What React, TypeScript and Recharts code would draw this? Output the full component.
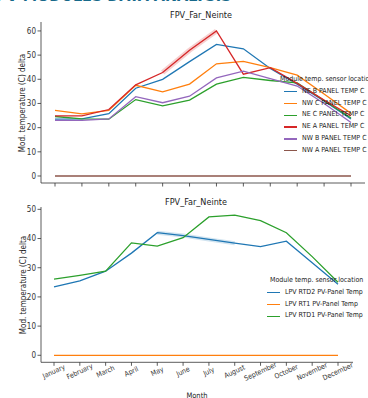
import { LineChart, Line, XAxis, YAxis } from 'recharts'

const months = ['January', 'February', 'March', 'April', 'May', 'June', 'July', 'August', 'September', 'October', 'November', 'December']

// top panel: module temp delta per sensor
const neB = [23.5, 23.6, 25.8, 36.3, 40.0, 47.3, 54.4, 52.6, 44.5, 38.0, 31.0, 23.6]
const nwC = [27.1, 25.7, 27.1, 37.5, 34.8, 38.0, 46.4, 47.4, 44.8, 41.7, 33.9, 25.9]
const neC = [24.6, 23.6, 23.5, 31.6, 29.0, 31.4, 38.0, 40.8, 39.5, 38.5, 31.2, 24.0]
const neA = [24.9, 24.9, 27.5, 37.7, 42.8, 52.0, 60.0, 42.1, 44.8, 38.3, 31.4, 24.9]
const nwB = [23.0, 23.0, 23.6, 32.8, 30.3, 33.0, 40.6, 43.4, 40.3, 37.2, 30.0, 22.1]
const nwA = [0, 0, 0, 0, 0, 0, 0, 0, 0, 0, 0, 0]
const topTicks = [0, 10, 20, 30, 40, 50, 60]

// bottom panel
const rtd2 = [23.4, 25.5, 28.8, 35.0, 42.0, 41.0, 39.7, 38.4, 37.2, 39.1, 31.7, 24.3]
const rt1 = [0, 0, 0, 0, 0, 0, 0, 0, 0, 0, 0, 0]
const rtd1 = [26.1, 27.4, 28.8, 38.5, 37.4, 40.3, 47.4, 48.0, 46.1, 42.0, 33.8, 25.0]
const bottomTicks = [0, 10, 20, 30, 40, 50]

const topSeries = [
  { key: 'neB', name: 'NE B PANEL TEMP C', color: '#1f77b4' },
  { key: 'nwC', name: 'NW C PANEL TEMP C', color: '#ff7f0e' },
  { key: 'neC', name: 'NE C PANEL TEMP C', color: '#2ca02c' },
  { key: 'neA', name: 'NE A PANEL TEMP C', color: '#d62728' },
  { key: 'nwB', name: 'NW B PANEL TEMP C', color: '#9467bd' },
  { key: 'nwA', name: 'NW A PANEL TEMP C', color: '#8c564b' },
]
const bottomSeries = [
  { key: 'rtd2', name: 'LPV RTD2 PV-Panel Temp', color: '#1f77b4' },
  { key: 'rt1', name: 'LPV RT1 PV-Panel Temp', color: '#ff7f0e' },
  { key: 'rtd1', name: 'LPV RTD1 PV-Panel Temp', color: '#2ca02c' },
]

const topData = months.map((m, i) => ({
  month: m, neB: neB[i], nwC: nwC[i], neC: neC[i], neA: neA[i], nwB: nwB[i], nwA: nwA[i],
  band: i >= 4 && i <= 6 ? neA[i] : null,
}))
const bottomData = months.map((m, i) => ({
  month: m, rtd2: rtd2[i], rt1: rt1[i], rtd1: rtd1[i],
  band: i >= 4 && i <= 7 ? rtd2[i] : null,
}))

const FONT = '"DejaVu Sans Condensed", "Liberation Sans Narrow", "DejaVu Sans", sans-serif'
const AX = '#333'

const NoTick = () => <g />

const MonthTick = ({ x, y, payload }: any) => (
  <g transform={`translate(${x},${y + 4}) rotate(-25)`}>
    <text textAnchor="middle" dominantBaseline="central" fontSize={7} fill="#333" fontFamily={FONT}>
      {payload.value}
    </text>
  </g>
)

function LegendBox({ items, left, top, titleShift }: any) {
  return (
    <div style={{ position: 'absolute', left, top, width: 120, fontSize: 7, color: '#222', lineHeight: '11.8px', whiteSpace: 'nowrap' }}>
      <div style={{ marginLeft: titleShift }}>Module temp. sensor location</div>
      {items.map((s: any) => (
        <div key={s.key} style={{ display: 'flex', alignItems: 'center' }}>
          <span style={{ display: 'block', flexShrink: 0, width: 13, height: 1.5, background: s.color, marginRight: 5 }} />
          <span>{s.name}</span>
        </div>
      ))}
    </div>
  )
}

const yLabel = (cx: number, cy: number) => (
  <div style={{ position: 'absolute', left: cx, top: cy, transform: 'translate(-50%,-50%) rotate(-90deg)', fontSize: 8, color: '#222', whiteSpace: 'nowrap' }}>
    Mod. temperature (C) delta
  </div>
)

export default function App() {
  return (
    <div style={{ position: 'absolute', left: 0, top: 0, width: 368, height: 398, overflow: 'hidden', background: '#fff', fontFamily: FONT }}>
      <div style={{ position: 'absolute', left: -4, top: -14, fontSize: 16, lineHeight: '20px', fontWeight: 'bold', color: '#17698a', whiteSpace: 'nowrap' }}>
        PV MODULES DATA ANALYSIS
      </div>

      {/* top panel */}
      <div style={{ position: 'absolute', left: 201, top: 15, transform: 'translate(-50%,-50%)', fontSize: 9, color: '#222', whiteSpace: 'nowrap' }}>FPV_Far_Neinte</div>
      {yLabel(22, 103)}
      <div style={{ position: 'absolute', left: 0, top: 0 }}>
        <LineChart width={368} height={188} data={topData} margin={{ top: 22, right: 3, bottom: 0, left: 11 }}>
          <XAxis dataKey="month" height={5} tick={NoTick} tickSize={3.5} padding={{ left: 14, right: 14 }}
            axisLine={{ stroke: AX, strokeWidth: 0.8 }} tickLine={{ stroke: AX, strokeWidth: 0.8 }} interval={0} />
          <YAxis type="number" width={30} domain={[-2.9, 63.7]} ticks={topTicks} allowDataOverflow tickSize={3.5} tickMargin={1.5}
            tick={{ fontSize: 8, fill: '#333', fontFamily: FONT }} axisLine={{ stroke: AX, strokeWidth: 0.8 }} tickLine={{ stroke: AX, strokeWidth: 0.8 }} />
          <Line dataKey="band" stroke="#d62728" strokeOpacity={0.22} strokeWidth={5} dot={false} isAnimationActive={false} />
          {topSeries.map(s => (
            <Line key={s.key} dataKey={s.key} name={s.name} stroke={s.color} strokeWidth={1.3} dot={false} isAnimationActive={false} />
          ))}
        </LineChart>
      </div>
      <LegendBox items={topSeries} left={284} top={74} titleShift={-4} />

      {/* bottom panel */}
      <div style={{ position: 'absolute', left: 196, top: 202, transform: 'translate(-50%,-50%)', fontSize: 9, color: '#222', whiteSpace: 'nowrap' }}>FPV_Far_Neinte</div>
      {yLabel(23, 285)}
      <div style={{ position: 'absolute', left: 0, top: 190 }}>
        <LineChart width={368} height={208} data={bottomData} margin={{ top: 17, right: 15, bottom: 0, left: 11 }}>
          <XAxis dataKey="month" height={35.7} tick={<MonthTick />} tickSize={3.5} padding={{ left: 13, right: 15 }}
            axisLine={{ stroke: AX, strokeWidth: 0.8 }} tickLine={{ stroke: AX, strokeWidth: 0.8 }} interval={0} />
          <YAxis type="number" width={30} domain={[-2.4, 50.8]} ticks={bottomTicks} allowDataOverflow tickSize={3.5} tickMargin={1.5}
            tick={{ fontSize: 8, fill: '#333', fontFamily: FONT }} axisLine={{ stroke: AX, strokeWidth: 0.8 }} tickLine={{ stroke: AX, strokeWidth: 0.8 }} />
          <Line dataKey="band" stroke="#1f77b4" strokeOpacity={0.2} strokeWidth={4} dot={false} isAnimationActive={false} />
          {bottomSeries.map(s => (
            <Line key={s.key} dataKey={s.key} name={s.name} stroke={s.color} strokeWidth={1.3} dot={false} isAnimationActive={false} />
          ))}
        </LineChart>
      </div>
      <LegendBox items={bottomSeries} left={267} top={275} titleShift={3} />
      <div style={{ position: 'absolute', left: 197, top: 395, transform: 'translate(-50%,-50%)', fontSize: 7.5, color: '#222' }}>Month</div>
    </div>
  )
}
